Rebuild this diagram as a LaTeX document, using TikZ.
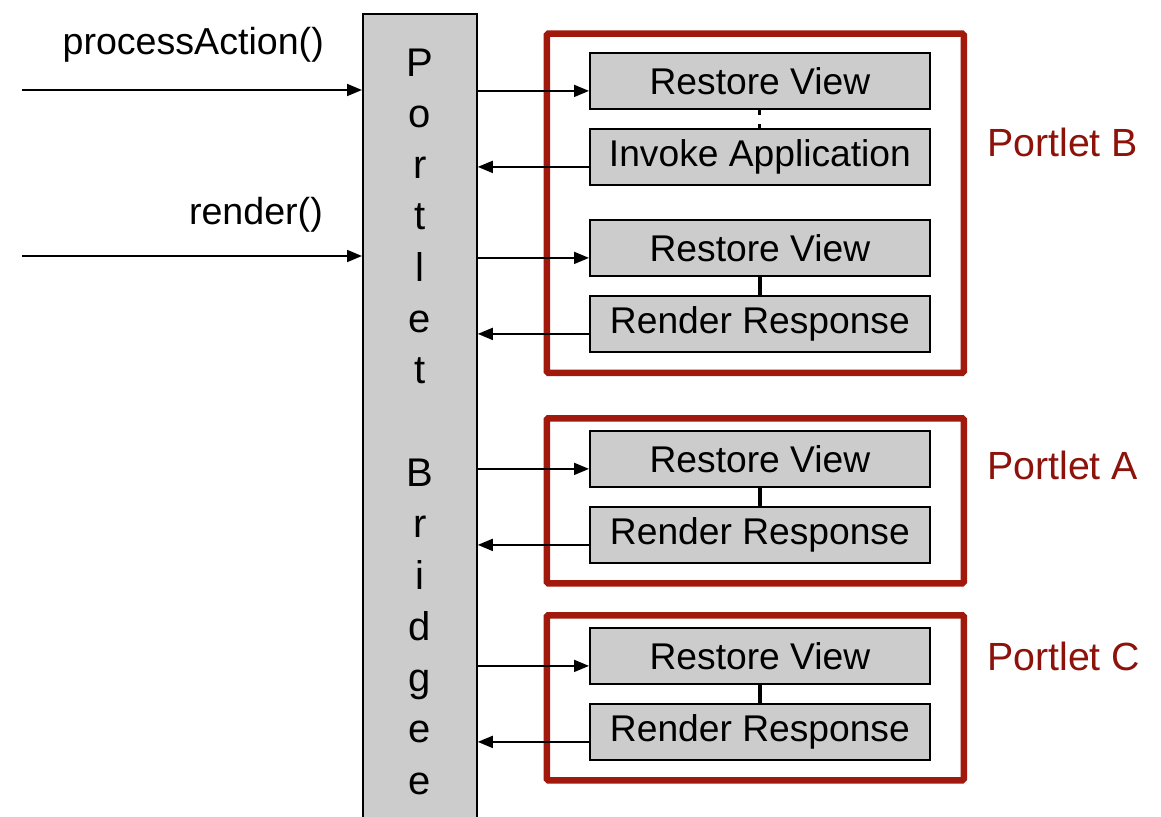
\documentclass[tikz,border=0pt]{standalone}
\usepackage{fontspec}
\setmainfont{Liberation Sans}
\usetikzlibrary{arrows.meta,calc}
\definecolor{framered}{RGB}{160,25,12}
\definecolor{labelred}{RGB}{140,18,10}
\definecolor{boxgray}{RGB}{204,204,204}
\tikzset{
  big/.style={inner sep=0pt,font=\fontsize{37.6}{44}\selectfont},
  letter/.style={inner sep=0pt,anchor=base,font=\fontsize{40}{48}\selectfont},
  phase/.style={draw=black,line width=1.8pt,fill=boxgray,minimum width=340pt,
    minimum height=56pt,inner sep=0pt,anchor=north west,
    font=\fontsize{37.2}{44}\selectfont},
  portlet/.style={draw=framered,line width=6.5pt,rounded corners=1.5pt,
    minimum width=417pt,inner sep=0pt,anchor=north west},
  plabel/.style={inner sep=0pt,anchor=west,text=labelred,
    font=\fontsize{39.3}{46}\selectfont},
  conn/.style={line width=1.8pt,-{Triangle[length=15pt,width=12pt]}},
  link/.style={line width=3.5pt},
}
\begin{document}
\begin{tikzpicture}[x=1pt,y=-1pt]
\useasboundingbox (0,0) rectangle (1161,816);
\clip (0,0) rectangle (1161,816);

% the bridge column, running off the bottom edge
\node[draw=black,line width=1.8pt,fill=boxgray,minimum width=114pt,
  minimum height=830pt,inner sep=0pt,anchor=north west] (bridge) at (362,13) {};
\foreach \ch [count=\k from 0] in {P,o,r,t,l,e,t,{},B,r,i,d,g,e,e}
  \node[letter] (ch\k) at (420,{76+51.3*\k}) {\ch};

% portlet frames
\node[portlet,minimum height=339pt] (pB) at (543.5,30.5) {};
\node[portlet,minimum height=165pt] (pA) at (543.5,415) {};
\node[portlet,minimum height=165pt] (pC) at (543.5,612) {};
\node[plabel] (lB) at (987,142) {Portlet B};
\node[plabel] (lA) at (987,465) {Portlet A};
\node[plabel] (lC) at (987,656) {Portlet C};

% lifecycle phases
\node[phase] (rvB1) at (589,52)  {Restore View};
\node[phase] (iaB)  at (589,128) {Invoke Application};
\node[phase] (rvB2) at (589,219) {Restore View};
\node[phase] (rrB)  at (589,295) {Render Response};
\node[phase] (rvA)  at (589,430) {Restore View};
\node[phase] (rrA)  at (589,506) {Render Response};
\node[phase] (rvC)  at (589,627) {Restore View};
\node[phase] (rrC)  at (589,703) {Render Response};

% short links between consecutive phases
\draw[line width=3pt,dash pattern=on 5pt off 9pt] (rvB1.south) -- (iaB.north);
\draw[link] (rvB2.south) -- (rrB.north);
\draw[link] (rvA.south) -- (rrA.north);
\draw[link] (rvC.south) -- (rrC.north);

% incoming requests
\node[big,anchor=east] (pa) at (324,45) {processAction()};
\node[big,anchor=east] (rd) at (323,215) {render()};
\coordinate (inPA) at (22,90);
\coordinate (inRD) at (22,256);
\draw[conn] (inPA) -- (bridge.west |- inPA);
\draw[conn] (inRD) -- (bridge.west |- inRD);

% bridge to phases and back
\foreach \a/\b in {rvB1/iaB,rvB2/rrB,rvA/rrA,rvC/rrC}{
  \draw[conn] (bridge.east |- {$(\a.west)+(0,10)$}) -- ($(\a.west)+(0,10)$);
  \draw[conn] ($(\b.west)+(0,10)$) -- (bridge.east |- {$(\b.west)+(0,10)$});
}
\end{tikzpicture}
\end{document}
